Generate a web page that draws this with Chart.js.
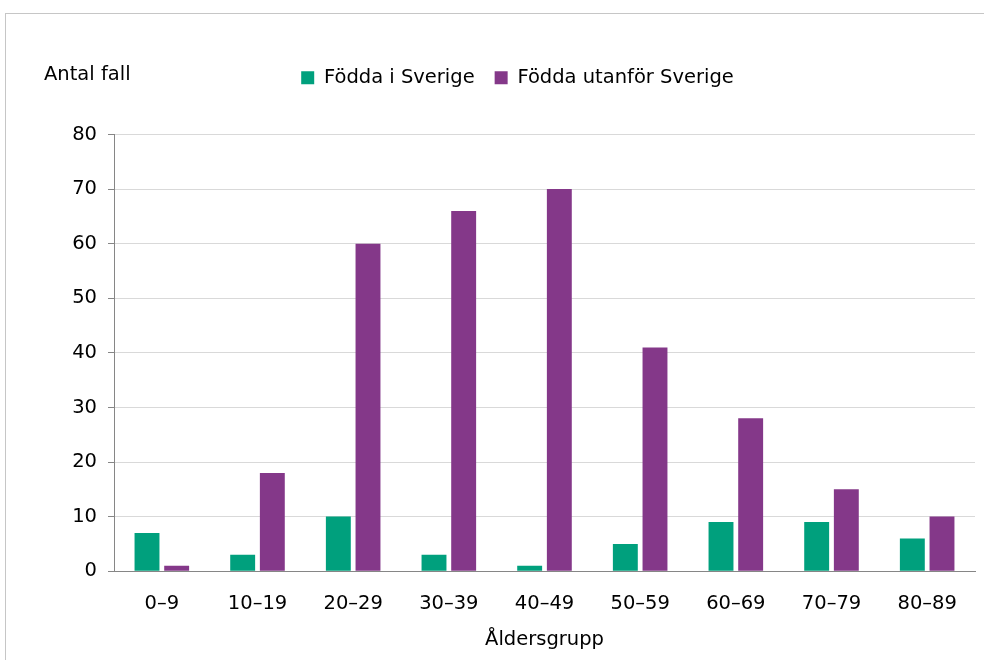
<!DOCTYPE html>
<html>
<head>
<meta charset="utf-8">
<script src="https://cdn.jsdelivr.net/npm/chart.js@4"></script>
<style>
  html, body { margin: 0; padding: 0; background: #fff; overflow: hidden; }
  #wrap { position: relative; width: 984px; height: 660px; }
  #frame { position: absolute; left: 5px; top: 13px; width: 1000px; height: 700px; border: 1px solid #c6c6c6; }
  #chart { position: absolute; left: 0; top: 0; }
</style>
</head>
<body>
<div id="wrap">
  <div id="frame"></div>
  <canvas id="chart" width="984" height="660"></canvas>
</div>
<script>
const ageGroups = ['0–9', '10–19', '20–29', '30–39', '40–49', '50–59', '60–69', '70–79', '80–89'];
const bornInSweden = [7, 3, 10, 3, 1, 5, 9, 9, 6];
const bornAbroad = [1, 18, 60, 66, 70, 41, 28, 15, 10];
const yTicks = [0, 10, 20, 30, 40, 50, 60, 70, 80];

const FONT = 'DejaVu Sans';
const SIZE = 19.5;
Chart.defaults.font.family = FONT;
Chart.defaults.font.size = SIZE;
Chart.defaults.color = '#000';

// "Antal fall" sits on the legend row, left of the y axis
const unitLabel = {
  id: 'unitLabel',
  afterInit(chart) {
    // leave room between the legend row and the plot
    const fit = chart.legend.fit;
    chart.legend.fit = function () {
      fit.call(this);
      this.height += 37;
    };
  },
  afterDraw(chart) {
    const ctx = chart.ctx;
    ctx.save();
    ctx.font = SIZE + 'px ' + FONT;
    ctx.fillStyle = '#000';
    ctx.textBaseline = 'middle';
    ctx.fillText('Antal fall', 44, 75);
    ctx.restore();
  }
};

new Chart(document.getElementById('chart'), {
  type: 'bar',
  data: {
    labels: ageGroups,
    datasets: [
      { label: 'Födda i Sverige', data: bornInSweden, backgroundColor: '#00a07d' },
      { label: 'Födda utanför Sverige', data: bornAbroad, backgroundColor: '#843889' }
    ]
  },
  options: {
    responsive: false,
    animation: false,
    categoryPercentage: 0.62,
    barPercentage: 0.84,
    layout: { padding: { top: 48, left: 60, right: 9, bottom: 8 } },
    plugins: {
      legend: {
        labels: { boxWidth: 13, boxHeight: 13, padding: 20 }
      },
      tooltip: { enabled: false }
    },
    scales: {
      x: {
        grid: { display: false },
        border: { color: '#868686', width: 1 },
        ticks: { padding: 13 },
        title: { display: true, text: 'Åldersgrupp', padding: { top: 0, bottom: 0 } }
      },
      y: {
        min: 0,
        max: 80,
        afterBuildTicks(scale) { scale.ticks = yTicks.map(v => ({ value: v })); },
        afterFit(scale) { scale.width = 54; },
        grid: { color: '#d9d9d9', tickColor: '#868686', tickLength: 6 },
        border: { color: '#868686', width: 1 },
        ticks: { padding: 11 }
      }
    }
  },
  plugins: [unitLabel]
});
</script>
</body>
</html>
